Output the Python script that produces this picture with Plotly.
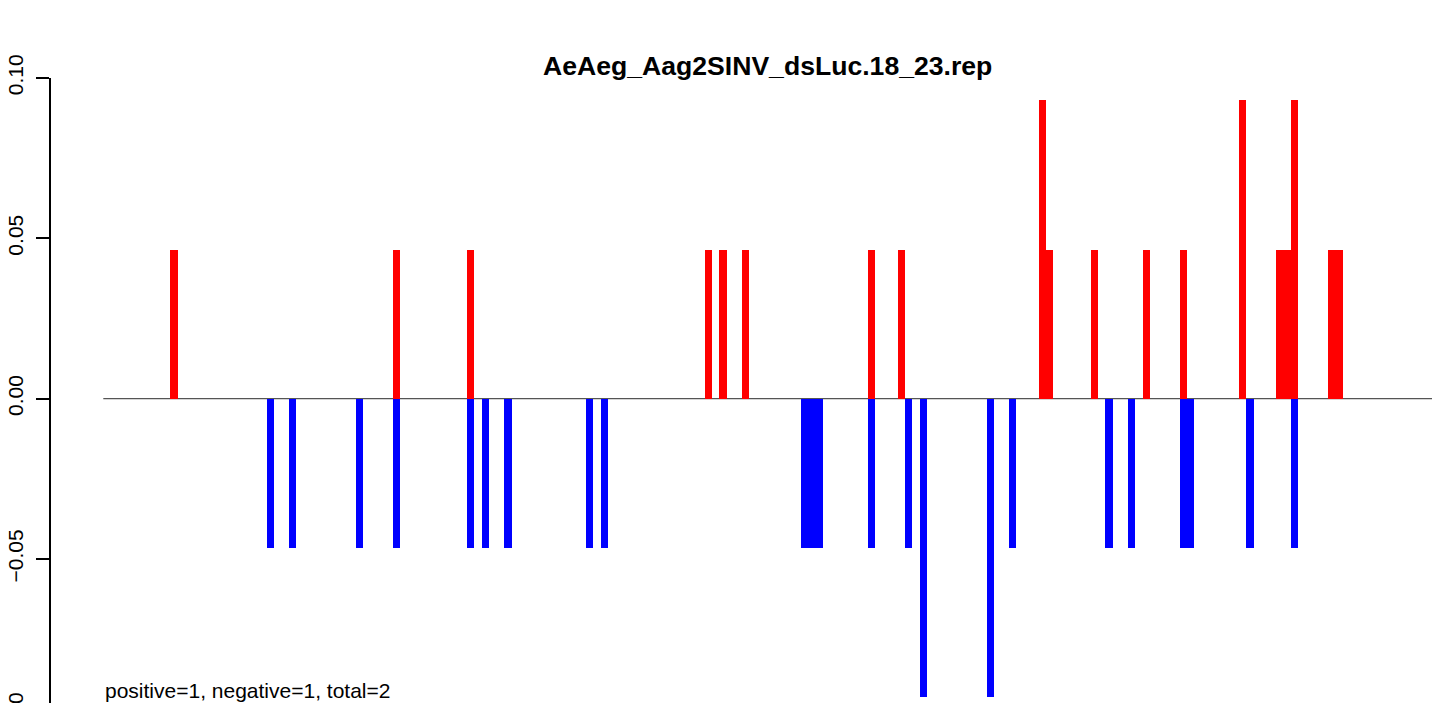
import plotly.graph_objects as go

# ---- data ----
title_text = "AeAeg_Aag2SINV_dsLuc.18_23.rep"
note_text = "positive=1, negative=1, total=2"
seq_length = 179

pos_positions = [10, 40, 50, 82, 84, 87, 104, 108, 127, 128, 134, 141, 146, 154, 159, 160, 161, 166, 167]
pos_values = [0.0465, 0.0465, 0.0465, 0.0465, 0.0465, 0.0465, 0.0465, 0.0465, 0.093, 0.0465,
              0.0465, 0.0465, 0.0465, 0.093, 0.0465, 0.0465, 0.093, 0.0465, 0.0465]

neg_positions = [23, 26, 35, 40, 50, 52, 55, 66, 68, 95, 96, 97, 104, 109, 111, 120, 123, 136, 139,
                 146, 147, 155, 161]
neg_values = [-0.0465, -0.0465, -0.0465, -0.0465, -0.0465, -0.0465, -0.0465, -0.0465, -0.0465,
              -0.0465, -0.0465, -0.0465, -0.0465, -0.0465, -0.093, -0.093, -0.0465, -0.0465, -0.0465,
              -0.0465, -0.0465, -0.0465, -0.0465]

y_tickvals = [-0.10, -0.05, 0.00, 0.05, 0.10]
y_ticktext = ["\u22120.10", "\u22120.05", "0.00", "0.05", "0.10"]

# ---- layout geometry ----
W, H = 1439, 703
m_l, m_r, m_t, m_b = 51, 0, 78, 0
px_per_unit = (1432 - 103.3) / seq_length
x_left = (m_l - 103.3) / px_per_unit
x_right = x_left + (W - m_l - m_r) / px_per_unit
y_top = 0.10
y_px_per_val = (398.4 - 77.7) / 0.10
y_bottom = y_top - (H - m_t - m_b) / y_px_per_val
plot_h = H - m_t - m_b
plot_w = W - m_l - m_r

FONT = "Liberation Sans, Arial, Helvetica, sans-serif"

fig = go.Figure()
fig.add_trace(go.Bar(x=pos_positions, y=pos_values, width=1, offset=-1,
                     marker=dict(color="#ff0000", line=dict(width=0)), showlegend=False))
fig.add_trace(go.Bar(x=neg_positions, y=neg_values, width=1, offset=-1,
                     marker=dict(color="#0000ff", line=dict(width=0)), showlegend=False))

fig.add_shape(type="line", xref="x", yref="y", x0=0, x1=seq_length, y0=0, y1=0,
              line=dict(color="#555555", width=1.2), layer="below")

# tick label below the visible range (partly cut by the bottom edge, as in the reference)
hidden_tick_val = y_tickvals[0]
hidden_tick_y = (hidden_tick_val - y_bottom) / (y_top - y_bottom)

fig.update_layout(
    width=W, height=H,
    margin=dict(l=m_l, r=m_r, t=m_t, b=m_b, pad=0),
    plot_bgcolor="white", paper_bgcolor="white",
    barmode="overlay", bargap=0,
    font=dict(family=FONT, size=21, color="black"),
    xaxis=dict(range=[x_left, x_right], visible=False, showgrid=False, zeroline=False),
    yaxis=dict(range=[y_bottom, y_top], tickvals=y_tickvals, ticktext=y_ticktext,
               tickangle=-90, ticks="outside", ticklen=13, tickwidth=1.5, tickcolor="black",
               ticklabelstandoff=5,
               showline=True, linecolor="black", linewidth=1.5, showgrid=False, zeroline=False,
               tickfont=dict(family=FONT, size=21, color="black")),
    annotations=[
        dict(text="<b>" + title_text + "</b>", xref="paper", yref="paper",
             x=(767.5 - m_l) / plot_w, y=1 + (m_t - 66) / plot_h,
             xanchor="center", yanchor="middle", showarrow=False,
             font=dict(family=FONT, size=26.6, color="black")),
        dict(text=note_text, xref="x", yref="paper", x=0, y=(H - 690) / plot_h,
             xanchor="left", yanchor="middle", showarrow=False,
             font=dict(family=FONT, size=21, color="black")),
        dict(text=y_ticktext[0], xref="paper", yref="paper",
             x=(15 - m_l) / plot_w, y=hidden_tick_y, textangle=-90,
             xanchor="center", yanchor="middle", showarrow=False,
             font=dict(family=FONT, size=21, color="black")),
    ],
)

fig.write_html("out.html", config={"displayModeBar": False},
               post_script="document.body.style.margin='0';document.body.style.overflow='hidden';")
